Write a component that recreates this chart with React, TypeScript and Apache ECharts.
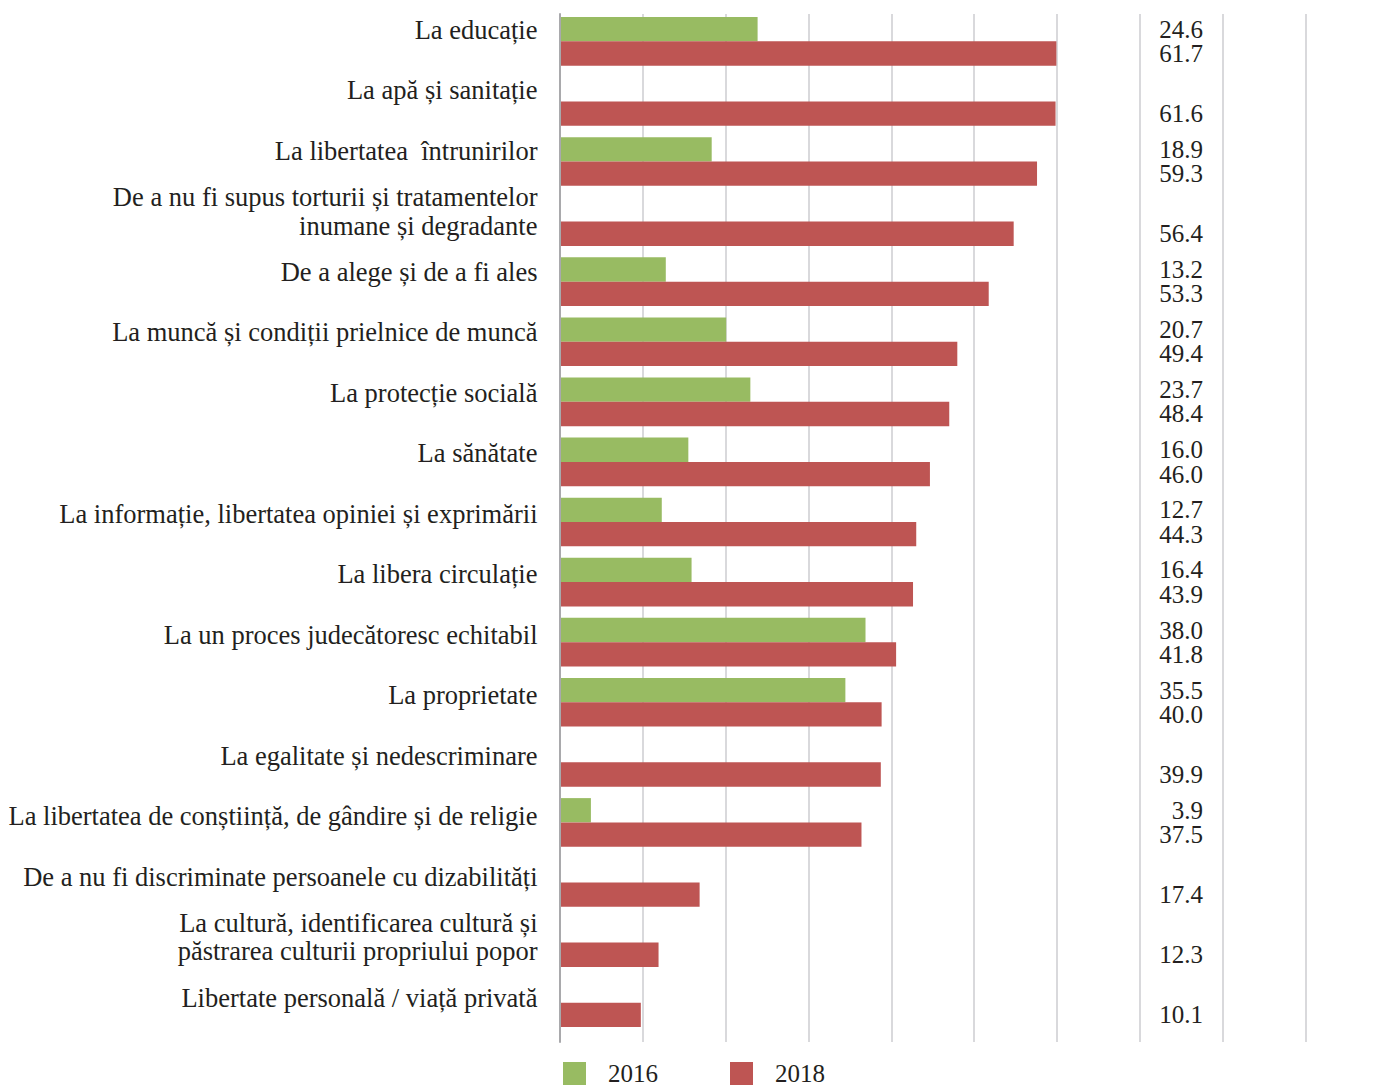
import React, { useEffect, useRef } from "react";
import * as echarts from "echarts";

// ---- data ----
const categories: string[] = [
  "La educație",
  "La apă și sanitație",
  "La libertatea  întrunirilor",
  "De a nu fi supus torturii și tratamentelor\ninumane și degradante",
  "De a alege și de a fi ales",
  "La muncă și condiții prielnice de muncă",
  "La protecție socială",
  "La sănătate",
  "La informație, libertatea opiniei și exprimării",
  "La libera circulație",
  "La un proces judecătoresc echitabil",
  "La proprietate",
  "La egalitate și nedescriminare",
  "La libertatea de conștiință, de gândire și de religie",
  "De a nu fi discriminate persoanele cu dizabilități",
  "La cultură, identificarea cultură și\npăstrarea culturii propriului popor",
  "Libertate personală / viață privată",
];

const values2016: (number | null)[] = [
  24.6, null, 18.9, null, 13.2, 20.7, 23.7, 16.0, 12.7, 16.4, 38.0, 35.5, null, 3.9, null, null, null,
];

const values2018: (number | null)[] = [
  61.7, 61.6, 59.3, 56.4, 53.3, 49.4, 48.4, 46.0, 44.3, 43.9, 41.8, 40.0, 39.9, 37.5, 17.4, 12.3, 10.1,
];

const seriesNames: string[] = ["2016", "2018"];

// ---- styling / layout constants ----
const FONT = "Liberation Serif";
const TEXT = "#231F20";
const GREEN = "#98BB62";
const RED = "#BE5553";
const AXIS_MAX = 92.7;
const AXIS_INTERVAL = 10.3;
const LABEL_AT = 79.9; // right edge of the number column, in axis units
const BAR_W = 24.3;
const PLOT_LEFT = 559.5;
const PLOT_WIDTH = 746.5;

function labelSeries(vals: (number | null)[], idx: number) {
  const data: number[][] = [];
  vals.forEach((v, i) => {
    if (v !== null && v !== undefined) data.push([v, i]);
  });
  return {
    type: "custom",
    name: "label-" + seriesNames[idx],
    xAxisIndex: 1,
    yAxisIndex: 1,
    silent: true,
    z: 5,
    encode: { x: 0, y: 1 },
    data,
    renderItem: (_params: any, api: any) => {
      const v = api.value(0) as number;
      const cat = api.value(1) as number;
      const p = api.coord([LABEL_AT, cat]);
      const dy = idx === 0 ? -BAR_W / 2 : BAR_W / 2;
      return {
        type: "text",
        x: p[0],
        y: p[1] + dy,
        style: {
          text: v.toFixed(1),
          align: "right",
          verticalAlign: "middle",
          fontFamily: FONT,
          fontSize: 25,
          fill: TEXT,
        },
      };
    },
  };
}

export default function App() {
  const ref = useRef<HTMLDivElement>(null);

  useEffect(() => {
    if (!ref.current) return;
    const chart = echarts.init(ref.current, undefined, { renderer: "svg" });
    const option: any = {
      animation: false,
      backgroundColor: "#ffffff",
      textStyle: { fontFamily: FONT },
      legend: {
        data: seriesNames,
        left: 563,
        top: 1061,
        padding: 0,
        icon: "rect",
        itemWidth: 23,
        itemHeight: 23,
        itemGap: 72,
        textStyle: {
          fontFamily: FONT,
          fontSize: 25,
          lineHeight: 22,
          color: TEXT,
          padding: [0, 0, 0, 17],
        },
      },
      grid: [
        { left: PLOT_LEFT, width: PLOT_WIDTH, top: 14, height: 1028, containLabel: false },
        { left: PLOT_LEFT, width: PLOT_WIDTH, top: 11.3, height: 1021.4, containLabel: false },
      ],
      xAxis: [
        {
          type: "value",
          gridIndex: 0,
          min: 0,
          max: AXIS_MAX,
          interval: AXIS_INTERVAL,
          axisLabel: { show: false },
          axisLine: { show: false },
          axisTick: { show: false },
          splitLine: { show: true, lineStyle: { color: "#CDCDD0", width: 1.5 } },
        },
        {
          type: "value",
          gridIndex: 1,
          min: 0,
          max: AXIS_MAX,
          interval: AXIS_INTERVAL,
          axisLabel: { show: false },
          axisLine: { show: false },
          axisTick: { show: false },
          splitLine: { show: false },
        },
      ],
      yAxis: [
        {
          type: "category",
          gridIndex: 0,
          data: categories,
          inverse: true,
          z: 6,
          axisLine: { show: true, lineStyle: { color: "#A9A9AC", width: 2 } },
          axisTick: { show: false },
          splitLine: { show: false },
          axisLabel: {
            interval: 0,
            margin: 22,
            fontFamily: FONT,
            fontSize: 26.5,
            color: TEXT,
            align: "right",
            verticalAlign: "middle",
            lineHeight: 28.5,
            // an empty trailing line lifts each label towards the top of its band
            formatter: (v: string) => v + "\n",
          },
        },
        {
          type: "category",
          gridIndex: 1,
          data: categories,
          inverse: true,
          axisLine: { show: false },
          axisTick: { show: false },
          axisLabel: { show: false },
          splitLine: { show: false },
        },
      ],
      series: [
        {
          type: "bar",
          name: seriesNames[0],
          xAxisIndex: 1,
          yAxisIndex: 1,
          data: values2016,
          barWidth: BAR_W,
          barGap: "0%",
          itemStyle: { color: GREEN },
        },
        {
          type: "bar",
          name: seriesNames[1],
          xAxisIndex: 1,
          yAxisIndex: 1,
          data: values2018,
          barWidth: BAR_W,
          barGap: "0%",
          itemStyle: { color: RED },
        },
        labelSeries(values2016, 0),
        labelSeries(values2018, 1),
      ],
    };
    chart.setOption(option);
    return () => {
      chart.dispose();
    };
  }, []);

  return (
    <div
      ref={ref}
      style={{ position: "fixed", left: 0, top: 0, width: 1379, height: 1088, background: "#fff" }}
    />
  );
}
